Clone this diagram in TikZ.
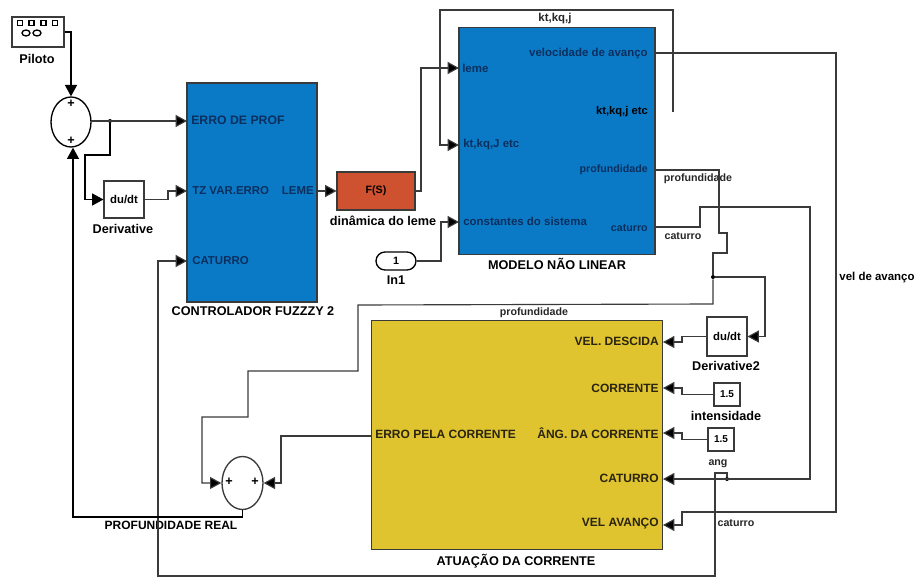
\documentclass[tikz,border=0pt]{standalone}
\usepackage{fontspec}
\setmainfont{Liberation Sans}
\usetikzlibrary{arrows.meta,shapes.geometric,shapes.misc}
\definecolor{bluebox}{HTML}{0B7AC6}
\definecolor{yellowbox}{HTML}{DFC42F}
\definecolor{redbox}{HTML}{CF5230}
\definecolor{linegray}{HTML}{3A3A3A}
\definecolor{bluetext}{HTML}{0B2F5E}
\definecolor{yellowtext}{HTML}{2A2410}
\tikzset{
  sized/.style 2 args={minimum width=#1*0.75pt,minimum height=#2*0.75pt,inner sep=0pt},
  block/.style={draw=linegray,line width=0.8pt},
  wire/.style={draw=linegray,line width=0.85pt},
  bwire/.style={draw=black,line width=1pt},
  arr/.style={-{Triangle[length=8.5pt,width=9pt,fill=black]}},
  lab/.style={font=\bfseries\fontsize{9.5}{10}\selectfont,inner sep=0pt,text=black},
  small/.style={font=\bfseries\fontsize{8}{9}\selectfont,inner sep=0pt,text=black!85},
  inblue/.style={font=\bfseries\fontsize{8.6}{10}\selectfont,inner sep=0pt,text=bluetext},
  inyellow/.style={font=\bfseries\fontsize{9}{10}\selectfont,inner sep=0pt,text=yellowtext},
  port/.style={circle,fill=black,inner sep=0pt,minimum size=3pt},
}
\begin{document}
\begin{tikzpicture}[x=0.75pt,y=-0.75pt]
\useasboundingbox (0,0) rectangle (917,581);
% blocks
\node[block,fill=white,sized={52}{30}] (piloto) at (38,32) {};
\foreach \xx in {20,31.5,43.5,55}{\draw[line width=1pt] (\xx-2.5,20.5) rectangle (\xx+2.5,25.5);}
\draw[line width=1pt] (26,33) ellipse (4 and 3);
\draw[line width=1pt] (37,33) ellipse (4 and 3);
\node[lab] (pilotolab) at (37,59) {Piloto};
\node[ellipse,draw=black,line width=1pt,sized={40}{50}] (sumA) at (71,122) {};
\node[lab] (sumAp1) at (71,104) {+};
\node[lab] (sumAp2) at (71,141) {+};
\node[block,sized={40}{37}] (deriv) at (124,199.5) {\bfseries\fontsize{8.5}{10}\selectfont du/dt};
\node[lab] (derivlab) at (123,229) {Derivative};
\node[block,fill=bluebox,sized={130}{219}] (fuzzy) at (252,192.5) {};
\node[lab] (fuzzylab) at (253,311) {CONTROLADOR FUZZZY 2};
\node[inblue,anchor=west,font=\bfseries\fontsize{9.2}{10}\selectfont] (f1) at (191,120) {ERRO DE PROF};
\node[inblue,anchor=west] (f2) at (192,191) {TZ VAR.ERRO};
\node[inblue,anchor=west] (f3) at (192,261) {CATURRO};
\node[inblue,anchor=east] (f4) at (314,191) {LEME};
\node[block,fill=redbox,sized={78}{38}] (fs) at (376,191) {\bfseries\fontsize{8}{10}\selectfont F(S)};
\node[lab] (fslab) at (383,221) {dinâmica do leme};
\node[block,fill=bluebox,sized={196}{227}] (modelo) at (557,141) {};
\node[lab] (modelolab) at (557,264) {MODELO NÃO LINEAR};
\node[inblue,anchor=west] (m1) at (462,68) {leme};
\node[inblue,anchor=west] (m2) at (463,145) {kt,kq,J etc};
\node[inblue,anchor=west] (m3) at (463,221) {constantes do sistema};
\node[inblue,anchor=east] (m4) at (648,54) {velocidade de avanço};
\node[anchor=east,font=\bfseries\fontsize{8.4}{9}\selectfont,inner sep=0pt] (m5) at (648,112) {kt,kq,j etc};
\node[inblue,anchor=east,font=\bfseries\fontsize{8}{9}\selectfont] (m6) at (648,170) {profundidade};
\node[inblue,anchor=east,font=\bfseries\fontsize{8}{9}\selectfont] (m7) at (648,228) {caturro};
\node[rounded rectangle,draw=black,line width=1pt,sized={40}{18}] (inA) at (396,261) {\bfseries\fontsize{8}{10}\selectfont 1};
\node[lab] (inlab) at (396,280) {In1};
\node[block,fill=yellowbox,sized={291}{229}] (atua) at (517,435) {};
\node[lab] (atualab) at (516,561) {ATUAÇÃO DA CORRENTE};
\node[inyellow,anchor=east] (a1) at (659,341) {VEL. DESCIDA};
\node[inyellow,anchor=east] (a2) at (659,388) {CORRENTE};
\node[inyellow,anchor=east] (a3) at (659,433) {ÂNG. DA CORRENTE};
\node[inyellow,anchor=east] (a4) at (659,478) {CATURRO};
\node[inyellow,anchor=east] (a5) at (659,524) {VEL AVANÇO};
\node[inyellow,anchor=west] (a6) at (375,434) {ERRO PELA CORRENTE};
\node[block,sized={40}{39}] (derivB) at (727,336.5) {\bfseries\fontsize{8.5}{10}\selectfont du/dt};
\node[lab] (derivBlab) at (726,366) {Derivative2};
\node[block,sized={26}{23}] (cA) at (727,394.5) {\bfseries\fontsize{7.5}{9}\selectfont 1.5};
\node[lab] (cAlab) at (726,416) {intensidade};
\node[block,sized={26}{23}] (cB) at (721,439.5) {\bfseries\fontsize{7.5}{9}\selectfont 1.5};
\node[small] (cBlab) at (718,464) {ang};
\node[ellipse,draw=linegray,line width=1pt,sized={41}{53}] (sumB) at (242.5,483) {};
\node[lab] (sumBp1) at (229,482) {+};
\node[lab] (sumBp2) at (255,482) {+};
\node[lab,font=\bfseries\fontsize{9}{10}\selectfont] (sumBlab) at (171,525) {PROFUNDIDADE REAL};
% wire labels
\node[small,font=\bfseries\fontsize{8.6}{9}\selectfont] (wl1) at (555,19) {kt,kq,j};
\node[small] (wl2) at (698,179) {profundidade};
\node[small] (wl3) at (683,236) {caturro};
\node[small] (wl4) at (534,313) {profundidade};
\node[lab,font=\bfseries\fontsize{8.6}{9}\selectfont] (wl5) at (877,278) {vel de avanço};
\node[small] (wl6) at (736,523) {caturro};
% port coordinates
\coordinate (pf1) at (187,121);
\coordinate (pf2) at (187,191);
\coordinate (pf3) at (187,261);
\coordinate (pm1) at (459,68);
\coordinate (pm2) at (459,145);
\coordinate (pm3) at (459,222);
\coordinate (om1) at (655,53);
\coordinate (om2) at (673,112);
\coordinate (om3) at (655,170);
\coordinate (om4) at (655,227);
\coordinate (pa1) at (663,342);
\coordinate (pa2) at (663,388);
\coordinate (pa3) at (663,433);
\coordinate (pa4) at (663,479);
\coordinate (pa5) at (663,525);
\coordinate (oa) at (372,436);
\node[port] (jA) at (110,121) {};
\node[port] (jB) at (713,277) {};
\node[port] (jC) at (727,479) {};
% connectors
\draw[bwire,arr] (piloto.east) -| (sumA.north);
\draw[wire,arr] (sumA.east) |- (pf1);
\draw[bwire,arr] (jA) |- (85,155) |- (deriv.west);
\draw[wire,arr] (deriv.east) -- (168,199.5) |- (pf2);
\draw[wire,arr] (fuzzy.east |- pf2) -- (fs.west);
\draw[wire,arr] (fs.east) -- (421,191) |- (pm1);
\draw[wire,arr] (om2) |- (440,10) |- (pm2);
\draw[wire,arr] (inA.east) -- (441,261) |- (pm3);
\draw[wire,arr] (om1) -- (836,53) |- (682,512) |- (pa5);
\draw[wire] (om3) -- (719,170) |- (727,233) |- (713,253) -- (jB);
\draw[wire,arr] (jB) -- (713,304) -- (358,305) |- (248,371) |- (202,417) |- (sumB.west);
\draw[wire,arr] (jB) -- (765,277) |- (derivB.east);
\draw[wire,arr] (derivB.west) -- (682,336.5) |- (pa1);
\draw[wire,arr] (cA.west) -- (682,394.5) |- (pa2);
\draw[wire,arr] (cB.west) -- (682,439.5) |- (pa3);
\draw[wire,arr] (om4) -- (700,227) |- (810,207) |- (pa4);
\draw[wire,arr] (jC) |- (715,473) |- (158,576) |- (pf3);
\draw[wire,arr] (oa) -- (281,436) |- (sumB.east);
\draw[bwire,arr] (sumB.south) |- (73,517) -- (sumA.south -| 73,0);
\end{tikzpicture}
\end{document}
